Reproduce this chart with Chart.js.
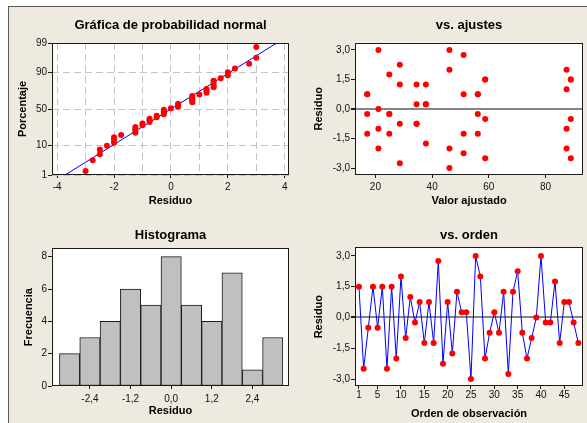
<!DOCTYPE html>
<html lang="es">
<head>
<meta charset="utf-8">
<title>Gráficas de residuos</title>
<script src="https://cdn.jsdelivr.net/npm/chart.js@4.4.1/dist/chart.umd.min.js"></script>
<style>
  html, body { margin: 0; padding: 0; background: #fff; }
  #lienzo { position: relative; width: 587px; height: 423px; overflow: hidden; background: #fff; }
  #marco { position: absolute; left: 8px; top: 6px; width: 600px; height: 440px;
           background: #EEEADF; border-left: 1px solid #5a5a5a; border-top: 1px solid #5a5a5a; }
  canvas { position: absolute; }
</style>
</head>
<body>
<div id="lienzo">
  <div id="marco"></div>
  <canvas id="normal" width="286" height="208" style="left:8px;top:7px"></canvas>
  <canvas id="ajustes" width="293" height="208" style="left:294px;top:7px"></canvas>
  <canvas id="histograma" width="286" height="208" style="left:8px;top:215px"></canvas>
  <canvas id="orden" width="293" height="208" style="left:294px;top:215px"></canvas>
</div>
<script>
// Gráfica de residuos 4 en 1 (estilo Minitab)

/* =========================================
   DATOS
========================================= */
// residuos en orden de observación (1..48)
const residuos = [
  1.5, -2.5, -0.5, 1.5, -0.5, 1.5, -2.5, 1.5, -2, 2,
  -1, 1, -0.25, 0.75, -1.25, 0.75, -1.25, 2.75, -2.25, 0.75,
  -1.75, 1.25, 0.25, 0.25, -3, 3, 2, -2, -0.75, 0.25,
  -0.75, 1.25, -2.75, 1.25, 2.25, -0.75, -2, -1, 0, 3,
  -0.25, -0.25, 1.75, -1.25, 0.75, 0.75, -0.25, -1.25
];

// porcentaje de cada residuo ordenado en la gráfica normal
const porcentajes = [
  1.45, 3.51, 5.58, 7.64, 9.71, 11.78, 13.84, 15.91, 17.98, 20.04,
  22.11, 24.17, 26.24, 28.31, 30.37, 32.44, 34.50, 36.57, 38.64, 40.70,
  42.77, 44.83, 46.90, 48.97, 51.03, 53.10, 55.17, 57.23, 59.30, 61.36,
  63.43, 65.50, 67.56, 69.63, 71.69, 73.76, 75.83, 77.89, 79.96, 82.02,
  84.09, 86.16, 88.22, 90.29, 92.36, 94.42, 96.49, 98.55
];

// recta de referencia de la gráfica normal
const rectaResiduo = [-3.72, 3.72];
const rectaPorcentaje = [1, 99];

// valores ajustados (12 grupos) y sus residuos
const valoresAjustados = [17.1, 21.05, 24.9, 28.6, 34.5, 37.8, 46.1, 51.1, 56.1, 58.7, 87.4, 88.9];
const residuosPorAjuste = [
  [0.75, 0.75, -0.25, -1.25],
  [3, 0, -1, -2],
  [1.75, -0.25, -0.25, -1.25],
  [2.25, 1.25, -0.75, -2.75],
  [1.25, 0.25, -0.75, -0.75],
  [1.25, 0.25, 0.25, -1.75],
  [3, 2, -2, -3],
  [2.75, 0.75, -1.25, -2.25],
  [0.75, 0.75, -0.25, -1.25],
  [1.5, 1.5, -0.5, -2.5],
  [2, 1, -1, -2],
  [1.5, 1.5, -0.5, -2.5]
];

// histograma
const centrosClase = [-3.0, -2.4, -1.8, -1.2, -0.6, 0.0, 0.6, 1.2, 1.8, 2.4, 3.0];
const frecuencias = [2, 3, 4, 6, 5, 8, 5, 4, 7, 1, 3];

// marcas de los ejes
const marcasPorcentaje = [1, 10, 50, 90, 99];
const marcasResiduoNormal = [-4, -3, -2, -1, 0, 1, 2, 3, 4];
const marcasResiduo = [-3, -1.5, 0, 1.5, 3];
const marcasAjuste = [20, 40, 60, 80];
const marcasHistX = [-2.4, -1.2, 0, 1.2, 2.4];
const marcasHistY = [0, 2, 4, 6, 8];
const marcasOrden = [1, 5, 10, 15, 20, 25, 30, 35, 40, 45];

/* =========================================
   ESCALA DE PROBABILIDAD NORMAL
========================================= */
function probit(p) {
  // aproximación de Acklam
  const a = [-3.969683028665376e+01, 2.209460984245205e+02, -2.759285104469687e+02, 1.383577518672690e+02, -3.066479806614716e+01, 2.506628277459239e+00];
  const b = [-5.447609879822406e+01, 1.615858368580409e+02, -1.556989798598866e+02, 6.680131188771972e+01, -1.328068155288572e+01];
  const c = [-7.784894002430293e-03, -3.223964580411365e-01, -2.400758277161838e+00, -2.549732539343734e+00, 4.374664141464968e+00, 2.938163982698783e+00];
  const d = [7.784695709041462e-03, 3.224671290700398e-01, 2.445134137142996e+00, 3.754408661907416e+00];
  const pl = 0.02425;
  let q, r;
  if (p < pl) {
    q = Math.sqrt(-2 * Math.log(p));
    return (((((c[0]*q+c[1])*q+c[2])*q+c[3])*q+c[4])*q+c[5]) / ((((d[0]*q+d[1])*q+d[2])*q+d[3])*q+1);
  }
  if (p > 1 - pl) {
    q = Math.sqrt(-2 * Math.log(1 - p));
    return -(((((c[0]*q+c[1])*q+c[2])*q+c[3])*q+c[4])*q+c[5]) / ((((d[0]*q+d[1])*q+d[2])*q+d[3])*q+1);
  }
  q = p - 0.5; r = q * q;
  return (((((a[0]*r+a[1])*r+a[2])*r+a[3])*r+a[4])*r+a[5])*q / (((((b[0]*r+b[1])*r+b[2])*r+b[3])*r+b[4])*r+1);
}

function normalAcumulada(z) {
  const t = 1 / (1 + 0.3275911 * Math.abs(z) / Math.SQRT2);
  const y = 1 - (((((1.061405429*t - 1.453152027)*t) + 1.421413741)*t - 0.284496736)*t + 0.254829592)*t * Math.exp(-z*z/2);
  return z >= 0 ? (1 + y) / 2 : (1 - y) / 2;
}

class EscalaProbit extends Chart.LinearScale {
  static id = "probit";
  static defaults = {};
  determineDataLimits() {
    this.min = this.options.min;
    this.max = this.options.max;
  }
  buildTicks() {
    return marcasPorcentaje.map(v => ({ value: v }));
  }
  rangoZ() {
    return [probit(this.min / 100), probit(this.max / 100)];
  }
  getPixelForValue(value) {
    const [z0, z1] = this.rangoZ();
    return this.getPixelForDecimal((probit(value / 100) - z0) / (z1 - z0));
  }
  getValueForPixel(pixel) {
    const [z0, z1] = this.rangoZ();
    return 100 * normalAcumulada(z0 + this.getDecimalForPixel(pixel) * (z1 - z0));
  }
}
Chart.register(EscalaProbit);

/* =========================================
   ESTILO GENERAL
========================================= */
const FUENTE = "'Liberation Sans', Arial, sans-serif";
Chart.defaults.font.family = FUENTE;
Chart.defaults.font.size = 10;
Chart.defaults.color = "#111";
Chart.defaults.animation = false;
Chart.defaults.plugins.legend.display = false;
Chart.defaults.plugins.tooltip.enabled = false;

const ROJO = "#FF0000";
const AZUL = "#0000FF";

// fondo blanco y marco negro del área de trazado
const marcoGrafica = {
  id: "marcoGrafica",
  beforeDraw(chart) {
    const { ctx, chartArea: a } = chart;
    ctx.save();
    ctx.fillStyle = "#fff";
    ctx.fillRect(a.left, a.top, a.right - a.left, a.bottom - a.top);
    ctx.restore();
  },
  afterDraw(chart) {
    const { ctx, chartArea: a } = chart;
    const l = Math.round(a.left) + 0.5, t = Math.round(a.top) + 0.5;
    const r = Math.round(a.right) - 0.5, b = Math.round(a.bottom) - 0.5;
    ctx.save();
    ctx.strokeStyle = "#1a1a1a";
    ctx.lineWidth = 1;
    ctx.strokeRect(l, t, r - l, b - t);
    ctx.restore();
  }
};

function coma(v) {
  return v.toFixed(1).replace(".", ",").replace("-0,0", "0,0");
}

function titulo(texto, arriba, abajo) {
  return {
    display: true,
    text: texto,
    fullSize: false,
    color: "#000",
    font: { family: FUENTE, size: 13, weight: "bold" },
    padding: { top: arriba, bottom: abajo }
  };
}

function tituloEje(texto, relleno) {
  return {
    display: true,
    text: texto,
    color: "#000",
    font: { family: FUENTE, size: 11, weight: "bold" },
    padding: { top: relleno, bottom: 0 }
  };
}

// marcas sin rejilla, con línea gris en cero opcional
function rejillaSimple(lineaCero, largo) {
  return {
    drawOnChartArea: !!lineaCero,
    color: ctx => (lineaCero && ctx.tick && ctx.tick.value === 0 ? "#858585" : "rgba(0,0,0,0)"),
    lineWidth: ctx => (lineaCero && ctx.tick && ctx.tick.value === 0 ? 2 : 1),
    tickColor: "#1a1a1a",
    tickLength: largo
  };
}

/* =========================================
   GRÁFICA DE PROBABILIDAD NORMAL
========================================= */
const residuosOrdenados = [...residuos].sort((a, b) => a - b);

new Chart(document.getElementById("normal"), {
  type: "scatter",
  data: {
    datasets: [
      {
        data: residuosOrdenados.map((r, i) => ({ x: r, y: porcentajes[i] })),
        backgroundColor: ROJO,
        borderColor: ROJO,
        pointRadius: 3,
        pointBorderWidth: 0
      },
      {
        data: rectaResiduo.map((r, i) => ({ x: r, y: rectaPorcentaje[i] })),
        showLine: true,
        borderColor: AZUL,
        borderWidth: 1,
        pointRadius: 0
      }
    ]
  },
  options: {
    responsive: false,
    devicePixelRatio: 1,
    layout: { padding: { left: 0, right: 5, top: 0, bottom: 7.4 } },
    plugins: { title: titulo("Gráfica de probabilidad normal", 10.9, 9.5) },
    scales: {
      x: {
        type: "linear",
        min: -4.18,
        max: 4.15,
        afterBuildTicks: s => { s.ticks = marcasResiduoNormal.map(v => ({ value: v })); },
        afterFit: s => { s.height = 32.6; },
        ticks: {
          autoSkip: false,
          maxRotation: 0,
          padding: 3,
          callback: v => (v % 2 === 0 ? String(v) : "")
        },
        grid: {
          color: "#C4C4C4",
          tickColor: ctx => (ctx.tick && ctx.tick.value % 2 === 0 ? "#1a1a1a" : "rgba(0,0,0,0)"),
          tickLength: 3
        },
        border: { display: false, dash: [7, 4] },
        title: tituloEje("Residuo", 0)
      },
      y: {
        type: "probit",
        min: 1,
        max: 99,
        afterFit: s => { s.width = 44; },
        ticks: { padding: 1, callback: v => String(v) },
        grid: { color: "#C4C4C4", tickColor: "#1a1a1a", tickLength: 4 },
        border: { display: false, dash: [7, 4] },
        title: tituloEje("Porcentaje", 7.9)
      }
    }
  },
  plugins: [marcoGrafica]
});

/* =========================================
   VS. AJUSTES
========================================= */
const puntosAjuste = [];
valoresAjustados.forEach((ajuste, g) => {
  residuosPorAjuste[g].forEach(r => puntosAjuste.push({ x: ajuste, y: r }));
});

new Chart(document.getElementById("ajustes"), {
  type: "scatter",
  data: {
    datasets: [
      {
        data: puntosAjuste,
        backgroundColor: ROJO,
        borderColor: ROJO,
        pointRadius: 3,
        pointBorderWidth: 0
      }
    ]
  },
  options: {
    responsive: false,
    devicePixelRatio: 1,
    layout: { padding: { left: 0, right: 2, top: 0, bottom: 7.4 } },
    plugins: { title: titulo("vs. ajustes", 10.9, 9.2) },
    scales: {
      x: {
        type: "linear",
        min: 12.8,
        max: 93.2,
        afterBuildTicks: s => { s.ticks = marcasAjuste.map(v => ({ value: v })); },
        afterFit: s => { s.height = 32.6; },
        ticks: { autoSkip: false, maxRotation: 0, padding: 3 },
        grid: rejillaSimple(false, 3),
        border: { display: false },
        title: tituloEje("Valor ajustado", 0)
      },
      y: {
        type: "linear",
        min: -3.35,
        max: 3.37,
        afterBuildTicks: s => { s.ticks = marcasResiduo.map(v => ({ value: v })); },
        afterFit: s => { s.width = 61; },
        ticks: { padding: 1, callback: v => coma(v) },
        grid: rejillaSimple(true, 4),
        border: { display: false },
        title: tituloEje("Residuo", 18.1)
      }
    }
  },
  plugins: [marcoGrafica]
});

/* =========================================
   HISTOGRAMA
========================================= */
new Chart(document.getElementById("histograma"), {
  type: "bar",
  data: {
    datasets: [
      {
        data: centrosClase.map((c, i) => ({ x: c, y: frecuencias[i] })),
        backgroundColor: "#C0C0C0",
        borderColor: "#1a1a1a",
        borderWidth: 1,
        borderSkipped: false,
        barPercentage: 1,
        categoryPercentage: 1
      }
    ]
  },
  options: {
    responsive: false,
    devicePixelRatio: 1,
    layout: { padding: { left: 0, right: 5, top: 0, bottom: 5.6 } },
    plugins: { title: titulo("Histograma", 12.9, 4.8) },
    scales: {
      x: {
        type: "linear",
        offset: false,
        min: -3.52,
        max: 3.48,
        afterBuildTicks: s => { s.ticks = marcasHistX.map(v => ({ value: v })); },
        afterFit: s => { s.height = 31.4; },
        ticks: { autoSkip: false, maxRotation: 0, padding: 4, callback: v => coma(v) },
        grid: Object.assign(rejillaSimple(false, 3), { offset: false }),
        border: { display: false },
        title: tituloEje("Residuo", 0)
      },
      y: {
        type: "linear",
        min: 0,
        max: 8.52,
        afterBuildTicks: s => { s.ticks = marcasHistY.map(v => ({ value: v })); },
        afterFit: s => { s.width = 44; },
        ticks: { padding: 1 },
        grid: rejillaSimple(false, 4),
        border: { display: false },
        title: tituloEje("Frecuencia", 14.6)
      }
    }
  },
  plugins: [marcoGrafica]
});

/* =========================================
   VS. ORDEN
========================================= */
new Chart(document.getElementById("orden"), {
  type: "line",
  data: {
    datasets: [
      {
        data: residuos.map((r, i) => ({ x: i + 1, y: r })),
        borderColor: AZUL,
        borderWidth: 1,
        tension: 0,
        pointRadius: 3,
        pointBorderWidth: 0,
        pointBackgroundColor: ROJO
      }
    ]
  },
  options: {
    responsive: false,
    devicePixelRatio: 1,
    layout: { padding: { left: 0, right: 2, top: 0, bottom: 2.4 } },
    plugins: { title: titulo("vs. orden", 12.9, 3.8) },
    scales: {
      x: {
        type: "linear",
        min: 0.15,
        max: 49,
        afterBuildTicks: s => { s.ticks = marcasOrden.map(v => ({ value: v })); },
        afterFit: s => { s.height = 34.6; },
        ticks: { autoSkip: false, maxRotation: 0, padding: 0 },
        grid: rejillaSimple(false, 3),
        border: { display: false },
        title: tituloEje("Orden de observación", 0)
      },
      y: {
        type: "linear",
        min: -3.34,
        max: 3.42,
        afterBuildTicks: s => { s.ticks = marcasResiduo.map(v => ({ value: v })); },
        afterFit: s => { s.width = 61; },
        ticks: { padding: 1, callback: v => coma(v) },
        grid: rejillaSimple(true, 4),
        border: { display: false },
        title: tituloEje("Residuo", 18.1)
      }
    }
  },
  plugins: [marcoGrafica]
});
</script>
</body>
</html>
